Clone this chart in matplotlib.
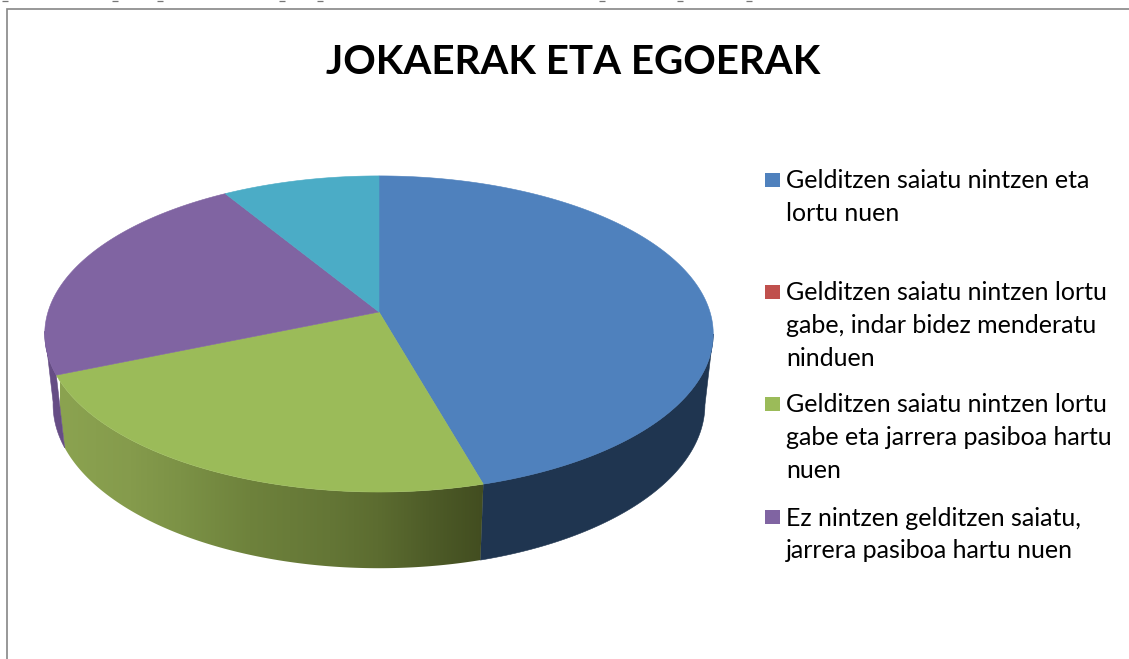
import numpy as np
import matplotlib
matplotlib.use("Agg")
import matplotlib.pyplot as plt
from matplotlib.patches import Rectangle, Polygon
from matplotlib.colors import LinearSegmentedColormap

title = "JOKAERAK ETA EGOERAK"
slice_values = [45.6, 0.0, 23.1, 22.6, 8.7]
slice_colors = ["#4F81BD", "#C0504D", "#9BBB59", "#8064A2", "#4BACC6"]
legend_labels = [
    "Gelditzen saiatu nintzen eta\nlortu nuen",
    "Gelditzen saiatu nintzen lortu\ngabe, indar bidez menderatu\nninduen",
    "Gelditzen saiatu nintzen lortu\ngabe eta jarrera pasiboa hartu\nnuen",
    "Ez nintzen gelditzen saiatu,\njarrera pasiboa hartu nuen",
]
legend_rows = [180, 292, 404, 517]
side_solid = {0: "#1F3550", 3: "#664D85", 4: "#2A6A7C"}
green_stops_x = [60, 130, 180, 250, 330, 379, 430, 484]
green_stops_c = ["#8BA350", "#859B4C", "#7C9246", "#6E823C", "#647636", "#5C6C30", "#4E5C28", "#424D20"]
cut_text_x = [5, 115, 160, 282, 320, 602, 680, 749]

CX, CY, A, B, K, W0, D = 379.0, 312.0, 331.0, 155.0, 0.139, 1.025, 72.0
FRONT = (98.0, 263.0)


def top_point(t):
    X, Y = np.sin(t), np.cos(t)
    w = 1 + K * Y
    return CX + A * X / w, CY - B * Y / w


def low_point(t):
    X, Y = np.sin(t), np.cos(t)
    w = W0 + K * Y
    return CX + A * X / w, CY - (B * Y - D) / w


fig = plt.figure(figsize=(11.29, 6.59), dpi=100, facecolor="white")
ax = fig.add_axes([0, 0, 1, 1])
ax.axis("off")

ax.plot([6.8, 6.8, 1129], [659, 8.6, 8.6], color="#868686", lw=1.2, solid_joinstyle="miter")
for x in cut_text_x:
    ax.plot([x - 3, x + 3], [0.6, 0.6], color="#777777", lw=0.9, solid_capstyle="butt")

edges = np.concatenate([[0], np.cumsum(slice_values)]) / np.sum(slice_values) * 2 * np.pi

# side walls
x0, x1 = green_stops_x[0], green_stops_x[-1]
green_map = LinearSegmentedColormap.from_list(
    "wall", [((x - x0) / (x1 - x0), c) for x, c in zip(green_stops_x, green_stops_c)])
for i in range(len(slice_values)):
    lo = max(edges[i], np.radians(FRONT[0]))
    hi = min(edges[i + 1], np.radians(FRONT[1]))
    if hi <= lo:
        continue
    ts = np.linspace(lo, hi, 150)
    xa, ya = top_point(ts)
    xb, yb = low_point(ts[::-1])
    verts = np.column_stack([np.r_[xa, xb], np.r_[ya, yb]])
    if i == 2:
        poly = Polygon(verts, closed=True, facecolor="none", edgecolor="none", transform=ax.transData)
        ax.add_patch(poly)
        grad = np.linspace(0, 1, 512)[None, :]
        im = ax.imshow(grad, cmap=green_map, extent=(x0, x1, 600, 350), aspect="auto",
                       zorder=2, interpolation="bilinear")
        im.set_clip_path(poly)
    else:
        ax.add_patch(Polygon(verts, closed=True, facecolor=side_solid[i], edgecolor=side_solid[i],
                             lw=0.4, zorder=2))

ax.set_xlim(0, 1129)
ax.set_ylim(659, 0)

# top faces
for i in range(len(slice_values)):
    if slice_values[i] <= 0:
        continue
    ts = np.linspace(edges[i], edges[i + 1], 200)
    x, y = top_point(ts)
    ax.fill(np.r_[CX, x], np.r_[CY, y], color=slice_colors[i], lw=0.4, zorder=3)

ax.text(573.5, 62, title, family="Lato", fontweight="bold", fontsize=29,
        ha="center", va="center", color="black")

for label, row, color in zip(legend_labels, legend_rows, slice_colors):
    ax.add_patch(Rectangle((765, row - 7.5), 14.5, 14.5, facecolor=color, edgecolor="none"))
    ax.text(786, row - 10.5, label, family="Lato", fontsize=18.0, color="black",
            ha="left", va="top", linespacing=1.5)

fig.savefig("out.png", dpi=100)
